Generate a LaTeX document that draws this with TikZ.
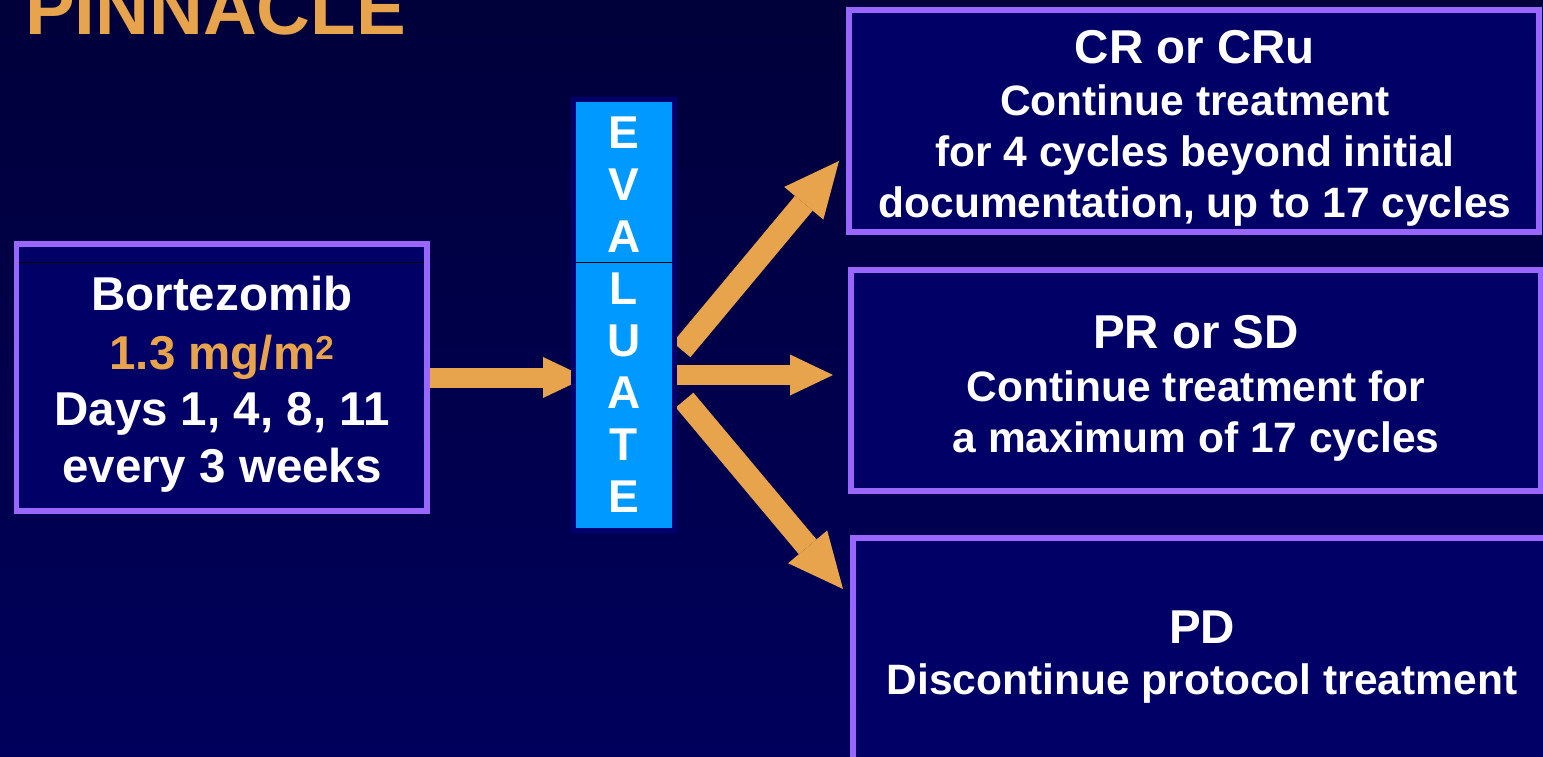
\documentclass[tikz,border=0pt]{standalone}
\usepackage{fontspec}
\setmainfont{Liberation Sans}
\usetikzlibrary{arrows.meta,calc}
\definecolor{bgtop}{RGB}{0,0,58}
\definecolor{bgbot}{RGB}{0,0,92}
\definecolor{boxfill}{RGB}{0,0,102}
\definecolor{boxline}{RGB}{153,102,255}
\definecolor{orng}{RGB}{232,164,76}
\definecolor{barblue}{RGB}{0,153,255}
\definecolor{barrim}{RGB}{0,0,110}
\tikzset{
  framebox/.style={draw=boxline, fill=boxfill, line width=5.5pt, inner sep=0pt, outer sep=0pt, anchor=north west},
  evalbar/.style={draw=barrim, fill=barblue, line width=5pt, inner sep=0pt, outer sep=0pt, anchor=north west,
    text=white, align=center, font=\fontsize{46}{52}\selectfont\bfseries},
  bigtxt/.style={text=white, inner sep=0pt, anchor=base, font=\fontsize{47.5}{57}\selectfont\bfseries},
  smalltxt/.style={text=white, inner sep=0pt, anchor=base, font=\fontsize{42.5}{51}\selectfont\bfseries},
  straightarrow/.style={draw=orng, line width=20pt, -{Triangle[length=43pt 0 0, width=41pt 0 0, line width=0pt]}},
  diagarrow/.style={draw=orng, line width=23pt, -{Triangle[length=55pt 0 0, width=51pt 0 0, line width=0pt]}},
  seam/.style={draw=black, line width=1pt},
}
\begin{document}
\begin{tikzpicture}[x=1pt, y=-1pt]
\useasboundingbox (0,0) rectangle (1543,757);
\clip (0,0) rectangle (1543,757);
\shade[top color=bgtop, bottom color=bgbot] (0,0) rectangle (1543,757);

% boxes
\node[framebox, minimum width=410.5pt, minimum height=267pt] (lbox) at (16.5,244) {};
\draw[seam] (19.25,262) -- (424.25,262);
\node[framebox, minimum width=690pt, minimum height=222pt] (box1) at (849,10) {};
\node[framebox, minimum width=690pt, minimum height=221pt] (box2) at (851,270) {};
\node[framebox, minimum width=720pt, minimum height=300pt] (box3) at (853,538) {};

% arrow end points
\coordinate (l0) at ($(lbox.east)+(2.75,0)$);
\coordinate (l1) at ($(lbox.east)+(159,0)$);
\coordinate (u0) at (681.6,349.8);
\coordinate (u1) at ($(box1.west)+(-10,40)$);
\coordinate (m0) at (670.5,375);
\coordinate (m1) at ($(box2.west)+(-18,-5.5)$);
\coordinate (d0) at (684.6,400.1);
\coordinate (d1) at ($(box3.north west)+(-10,51)$);

% arrows (drawn under the bar)
\draw[straightarrow] (l0) -- (l1);
\draw[diagarrow] (u0) -- (u1);
\draw[straightarrow] (m0) -- (m1);
\draw[diagarrow] (d0) -- (d1);

% evaluate bar
\node[evalbar, minimum width=101pt, minimum height=431pt] (bar) at (573.5,99.5)
  {E\\V\\A\\L\\U\\A\\T\\E};
\draw[seam] ($(bar.north west)+(2.5,162.5)$) -- ($(bar.north east)+(-2.5,162.5)$);

% title
\node[anchor=base west, inner sep=0pt, text=orng, font=\fontsize{74.5}{80}\selectfont\bfseries] (title) at (25,35) {PINNACLE};

% left box text
\node[bigtxt] (l1t) at (222,310) {Bortezomib};
\node[bigtxt, text=orng] (l2t) at (222,369) {1.3 mg/m\textsuperscript{2}};
\node[bigtxt] (l3t) at (222,425) {Days 1, 4, 8, 11};
\node[bigtxt] (l4t) at (222,482) {every 3 weeks};

% box1 text
\node[bigtxt] (b1a) at (1195,64) {CR or CRu};
\node[smalltxt] (b1b) at (1195,116) {Continue treatment};
\node[smalltxt] (b1c) at (1195,167) {for 4 cycles beyond initial};
\node[smalltxt] (b1d) at (1195,218) {documentation, up to 17 cycles};

% box2 text
\node[bigtxt] (b2a) at (1196,348) {PR or SD};
\node[smalltxt] (b2b) at (1196,401) {Continue treatment for};
\node[smalltxt] (b2c) at (1196,452) {a maximum of 17 cycles};

% box3 text
\node[bigtxt] (b3a) at (1202,643) {PD};
\node[smalltxt] (b3b) at (1202,694) {Discontinue protocol treatment};
\end{tikzpicture}
\end{document}
